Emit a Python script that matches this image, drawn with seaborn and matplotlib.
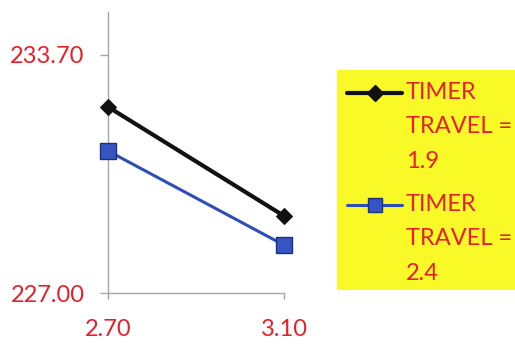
import matplotlib
matplotlib.use("Agg")
import matplotlib.pyplot as plt
import seaborn as sns
import pandas as pd
from matplotlib.lines import Line2D
from matplotlib.patches import Rectangle

# Data
x_values = [2.70, 3.10]
travel_19 = [232.24, 229.17]
travel_24 = [231.00, 228.35]
series_labels = ["TIMER\nTRAVEL =\n1.9", "TIMER\nTRAVEL =\n2.4"]
y_ticks = [227.00, 233.70]

RED = "#e5202a"
BLACK = "#111111"
BLUE = "#2f4db4"
BLUE_FACE = "#3555c4"
YELLOW = "#f9f928"
AXIS = "#a6a6a6"

sns.set_theme(style="white")
plt.rcParams["font.family"] = ["Lato", "DejaVu Sans"]

fig = plt.figure(figsize=(5.15, 3.51), dpi=100)
ax = fig.add_axes([0.2097, 0.1652, 0.3417, 0.8006])

df19 = pd.DataFrame({"x": x_values, "y": travel_19})
df24 = pd.DataFrame({"x": x_values, "y": travel_24})

sns.lineplot(data=df19, x="x", y="y", ax=ax, color=BLACK, linewidth=3.0,
             marker="D", markersize=8, markerfacecolor=BLACK,
             markeredgecolor=BLACK, clip_on=False, zorder=3)
sns.lineplot(data=df24, x="x", y="y", ax=ax, color=BLUE, linewidth=2.2,
             marker="s", markersize=12, markerfacecolor=BLUE_FACE,
             markeredgecolor="#1d2f80", markeredgewidth=1.0,
             clip_on=False, zorder=3)

ax.set_xlim(x_values[0], x_values[1])
ax.set_ylim(227.0, 234.91)
ax.set_xticks(x_values)
ax.set_xticklabels([f"{v:.2f}" for v in x_values])
ax.set_yticks(y_ticks)
ax.set_yticklabels([f"{v:.2f}" for v in y_ticks])
ax.set_xlabel("")
ax.set_ylabel("")

for side in ["top", "right"]:
    ax.spines[side].set_visible(False)
for side in ["left", "bottom"]:
    ax.spines[side].set_color(AXIS)
    ax.spines[side].set_linewidth(1.0)

ax.tick_params(axis="y", direction="out", length=6, width=1.0, color=AXIS,
               pad=11, labelsize=17, labelcolor=RED, left=True)
ax.tick_params(axis="x", direction="out", length=4, width=1.0, color=AXIS,
               pad=15, labelsize=17, labelcolor=RED, bottom=True)

# Legend panel
fig.patches.append(Rectangle((337 / 515, 1 - 290 / 351), (520 - 337) / 515,
                             (290 - 70) / 351, transform=fig.transFigure,
                             facecolor=YELLOW, edgecolor="none", zorder=0))

legend_rows = [
    (93, BLACK, "D", 8, BLACK, BLACK, 3.0, series_labels[0]),
    (205, BLUE, "s", 10, BLUE_FACE, "#1d2f80", 2.2, series_labels[1]),
]
for ypix, lc, mk, ms, mfc, mec, lw, label in legend_rows:
    yf = 1 - ypix / 351
    fig.add_artist(Line2D([347 / 515, 402 / 515], [yf, yf],
                          transform=fig.transFigure, color=lc, linewidth=lw))
    fig.add_artist(Line2D([375 / 515], [yf], transform=fig.transFigure,
                          marker=mk, markersize=ms, markerfacecolor=mfc,
                          markeredgecolor=mec, linestyle="none"))
    fig.text(406 / 515, 1 - (ypix - 11) / 351, label,
             transform=fig.transFigure, color=RED,
             fontsize=17, va="top", ha="left", linespacing=1.78)

fig.savefig("out.png", dpi=100)
